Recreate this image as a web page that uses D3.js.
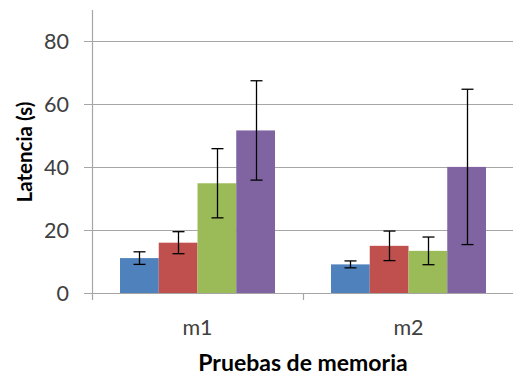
<!DOCTYPE html>
<html>
<head>
<meta charset="utf-8">
<script src="https://cdn.jsdelivr.net/npm/d3@7"></script>
<style>
  html, body { margin: 0; padding: 0; background: #fff; }
  svg { display: block; }
</style>
</head>
<body>
<svg id="chart" width="513" height="381"></svg>
<script>
// Memory tests and the four groups measured in each
const categories = ["m1", "m2"];
const groups = ["g1", "g2", "g3", "g4"];
const colors = ["#4f81bd", "#c0504d", "#9bbb59", "#8064a2"];

// Mean latency (s) per group, one array per test
const meansM1 = [11.1, 16.0, 34.9, 51.7];
const meansM2 = [9.1, 15.0, 13.4, 40.1];
// Error bar half-widths (s)
const errM1 = [2.0, 3.5, 11.0, 15.8];
const errM2 = [1.1, 4.7, 4.4, 24.7];

const yTicks = [0, 20, 40, 60, 80];
const yTitle = "Latencia (s)";
const xTitle = "Pruebas de memoria";

const means = [meansM1, meansM2];
const errs = [errM1, errM2];

const margin = { left: 92, right: -1, top: 10, bottom: 88 };
const W = 513, H = 381;
const svg = d3.select("#chart");
const font = "Lato, 'Open Sans', sans-serif";

const x0 = d3.scaleBand().domain(categories).range([margin.left, W - margin.right]).paddingInner(0).paddingOuter(0);
const x1 = d3.scaleBand().domain(groups).range([28, x0.bandwidth() - 28]).padding(0);
const y = d3.scaleLinear().domain([0, 90]).range([293, margin.top]);

// Horizontal gridlines with short tick stubs left of the axis
svg.append("g").selectAll("line").data(yTicks).join("line")
  .attr("x1", margin.left - 8).attr("x2", W)
  .attr("y1", d => Math.round(y(d)) + 0.5).attr("y2", d => Math.round(y(d)) + 0.5)
  .attr("stroke", "#a6a6a6").attr("stroke-width", 1.2);

// Vertical axis line
svg.append("line")
  .attr("x1", margin.left + 0.5).attr("x2", margin.left + 0.5)
  .attr("y1", margin.top).attr("y2", y(0) + 7)
  .attr("stroke", "#a6a6a6").attr("stroke-width", 1.2);

// Category boundary ticks below the baseline
svg.append("g").selectAll("line").data(categories.slice(1)).join("line")
  .attr("x1", d => Math.round(x0(d)) + 0.5).attr("x2", d => Math.round(x0(d)) + 0.5)
  .attr("y1", y(0)).attr("y2", y(0) + 7)
  .attr("stroke", "#a6a6a6").attr("stroke-width", 1.2);

// Y tick labels
svg.append("g").selectAll("text").data(yTicks).join("text")
  .attr("x", 69).attr("y", d => y(d))
  .attr("dy", "0.35em")
  .attr("text-anchor", "end")
  .attr("font-family", font).attr("font-size", 21.5).attr("fill", "#404040")
  .text(d => d);

// Bars
const catG = svg.append("g").selectAll("g").data(categories).join("g")
  .attr("transform", d => `translate(${x0(d)},0)`);

catG.selectAll("rect").data((c, i) => means[i].map((v, j) => ({ g: groups[j], v, e: errs[i][j], j })))
  .join("rect")
  .attr("x", d => x1(d.g))
  .attr("width", x1.bandwidth())
  .attr("y", d => y(d.v))
  .attr("height", d => y(0) - y(d.v))
  .attr("fill", (d) => colors[d.j]);

// Error bars
const capW = 6;
catG.selectAll("g.err").data((c, i) => means[i].map((v, j) => ({ g: groups[j], v, e: errs[i][j] })))
  .join("g").attr("class", "err")
  .each(function (d) {
    const cx = Math.round(x1(d.g) + x1.bandwidth() / 2) + 0.5;
    const g = d3.select(this);
    g.append("line").attr("x1", cx).attr("x2", cx)
      .attr("y1", y(d.v + d.e)).attr("y2", y(d.v - d.e));
    g.append("line").attr("x1", cx - capW).attr("x2", cx + capW)
      .attr("y1", y(d.v + d.e)).attr("y2", y(d.v + d.e));
    g.append("line").attr("x1", cx - capW).attr("x2", cx + capW)
      .attr("y1", y(d.v - d.e)).attr("y2", y(d.v - d.e));
    g.selectAll("line").attr("stroke", "#000").attr("stroke-width", 1.3);
  });

// Category labels
svg.append("g").selectAll("text").data(categories).join("text")
  .attr("x", d => x0(d) + x0.bandwidth() / 2)
  .attr("y", 335)
  .attr("text-anchor", "middle")
  .attr("font-family", font).attr("font-size", 21.5).attr("fill", "#404040")
  .text(d => d);

// Axis titles
svg.append("text")
  .attr("x", x0("m1") + x0.bandwidth())
  .attr("y", 371)
  .attr("text-anchor", "middle")
  .attr("font-family", font).attr("font-size", 23).attr("font-weight", "bold").attr("fill", "#000")
  .text(xTitle);

svg.append("text")
  .attr("transform", "translate(32,152) rotate(-90)")
  .attr("text-anchor", "middle")
  .attr("font-family", font).attr("font-size", 20.5).attr("font-weight", "bold").attr("fill", "#000")
  .text(yTitle);
</script>
</body>
</html>
